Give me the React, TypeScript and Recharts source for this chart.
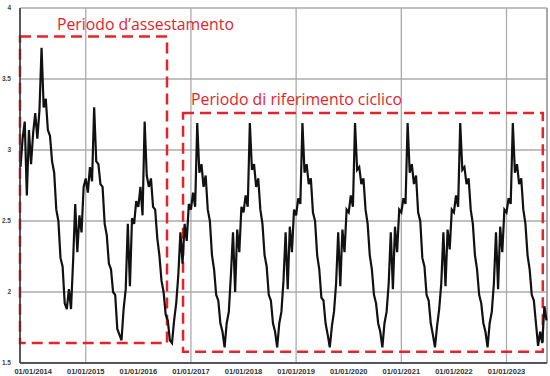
import { LineChart, Line, XAxis, YAxis, CartesianGrid, ReferenceArea, ReferenceLine } from "recharts";

// readings every 0.04 year (about two weeks)
const y2013 = [2.88, 3.08, 3.2, 2.68, 3.14, 2.9]; // from 2013.76
const y2014 = [3.12, 3.26, 3.08, 3.28, 3.72, 3.3, 3.36, 3.14, 3.1, 2.92, 2.84, 2.58, 2.5, 2.24, 2.18, 1.92, 1.88, 2.02, 1.88, 2.22, 2.62, 2.28, 2.54, 2.42, 2.74];
const y2015 = [2.8, 2.7, 2.88, 2.78, 3.3, 2.92, 2.9, 2.76, 2.74, 2.48, 2.4, 2.2, 2.16, 2.0, 1.98, 1.74, 1.7, 1.66, 1.88, 2.02, 2.48, 2.04, 2.52, 2.48, 2.64];
const y2016 = [2.6, 2.74, 2.54, 3.2, 2.82, 2.74, 2.8, 2.6, 2.58, 2.38, 2.26, 2.08, 2.0, 1.84, 1.8, 1.66, 1.64, 1.8, 1.92, 2.12, 2.42, 2.2, 2.48, 2.36, 2.62];
const y2017 = [2.58, 2.7, 2.6, 3.19, 2.84, 2.9, 2.74, 2.82, 2.58, 2.5, 2.26, 2.16, 1.98, 1.94, 1.78, 1.72, 1.61, 1.78, 1.86, 2.12, 2.42, 2.0, 2.44, 2.28, 2.6];
const y2018 = [2.56, 2.68, 2.6, 3.19, 2.86, 2.9, 2.74, 2.8, 2.58, 2.48, 2.26, 2.18, 1.98, 1.94, 1.78, 1.72, 1.61, 1.78, 1.86, 2.08, 2.42, 2.02, 2.46, 2.28, 2.58];
const y2019 = [2.54, 2.66, 2.62, 3.19, 2.84, 2.9, 2.76, 2.8, 2.56, 2.5, 2.26, 2.16, 1.96, 1.94, 1.78, 1.7, 1.61, 1.76, 1.86, 2.06, 2.42, 2.04, 2.44, 2.28, 2.58];
const y2020 = [2.56, 2.68, 2.6, 3.19, 2.86, 2.88, 2.76, 2.8, 2.58, 2.48, 2.26, 2.16, 1.98, 1.92, 1.78, 1.72, 1.61, 1.78, 1.86, 2.06, 2.42, 2.02, 2.46, 2.28, 2.58];
const y2021 = [2.56, 2.66, 2.62, 3.19, 2.84, 2.9, 2.76, 2.82, 2.56, 2.5, 2.24, 2.18, 1.98, 1.94, 1.78, 1.7, 1.61, 1.76, 1.88, 2.06, 2.42, 2.04, 2.44, 2.3, 2.58];
const y2022 = [2.56, 2.68, 2.6, 3.19, 2.86, 2.88, 2.76, 2.8, 2.58, 2.48, 2.26, 2.16, 1.98, 1.92, 1.78, 1.72, 1.61, 1.78, 1.86, 2.06, 2.42, 2.02, 2.46, 2.28, 2.58];
const y2023 = [2.56, 2.66, 2.62, 3.19, 2.84, 2.9, 2.76, 2.8, 2.58, 2.48, 2.26, 2.16, 1.98, 1.94, 1.78, 1.62, 1.72, 1.64, 1.9, 1.8];

const years = [2013, 2014, 2015, 2016, 2017, 2018, 2019, 2020, 2021, 2022, 2023];
const values = [y2013, y2014, y2015, y2016, y2017, y2018, y2019, y2020, y2021, y2022, y2023];
const yearTicks = [2014, 2015, 2016, 2017, 2018, 2019, 2020, 2021, 2022, 2023];
const valueTicks = [1.5, 2, 2.5, 3, 3.5, 4];

const data = years.flatMap((yr, k) => {
  const start = yr === 2013 ? 19 : 0;
  return values[k].map((v, j) => ({ t: yr + (start + j) / 25, v }));
});

const RED = "#e4242b";

const PeriodLabel = (text: string, dx: number, dy: number) => (props: any) => {
  const vb = props.viewBox;
  return (
    <text x={vb.x + dx} y={vb.y + dy} fill={RED} fontSize={15.8} fontFamily="'Open Sans', sans-serif">
      {text}
    </text>
  );
};

export default function App() {
  return (
    <div>
      <style>{`body{margin:0}`}</style>
      <LineChart width={550} height={376} data={data} margin={{ top: 8, right: 3, left: 0, bottom: 0 }}>
        <CartesianGrid stroke="#ababab" strokeWidth={1.3} />
        <XAxis
          dataKey="t"
          type="number"
          domain={[2013.75, 2023.77]}
          ticks={yearTicks}
          tickFormatter={(y) => `01/01/${y}`}
          height={13}
          tickLine={false}
          tickMargin={0}
          stroke="#333"
          strokeWidth={1.5}
          tick={{ fontSize: 7.5, fontWeight: "bold", fill: "#333", fontFamily: "Arial, 'Liberation Sans', sans-serif" }}
        />
        <YAxis
          type="number"
          domain={[1.5, 4]}
          ticks={valueTicks}
          width={20}
          tickLine={false}
          tickMargin={3}
          stroke="#333"
          strokeWidth={1.5}
          tick={{ fontSize: 6.5, fontWeight: "bold", fill: "#444", fontFamily: "Arial, 'Liberation Sans', sans-serif" }}
        />
        <ReferenceLine x={2023.77} stroke="#999" strokeWidth={1.3} />
        <Line type="linear" dataKey="v" stroke="#111" strokeWidth={2.2} dot={false} isAnimationActive={false} />
        <ReferenceArea
          x1={2013.75}
          x2={2016.545}
          y1={1.64}
          y2={3.8}
          fill="none"
          stroke={RED}
          strokeWidth={2.5}
          strokeDasharray="11 6"
          label={PeriodLabel("Periodo d’assestamento", 37, -6)}
        />
        <ReferenceArea
          x1={2016.85}
          x2={2023.69}
          y1={1.58}
          y2={3.26}
          fill="none"
          stroke={RED}
          strokeWidth={2.5}
          strokeDasharray="11 6"
          label={PeriodLabel("Periodo di riferimento ciclico", 8, -8)}
        />
      </LineChart>
    </div>
  );
}
